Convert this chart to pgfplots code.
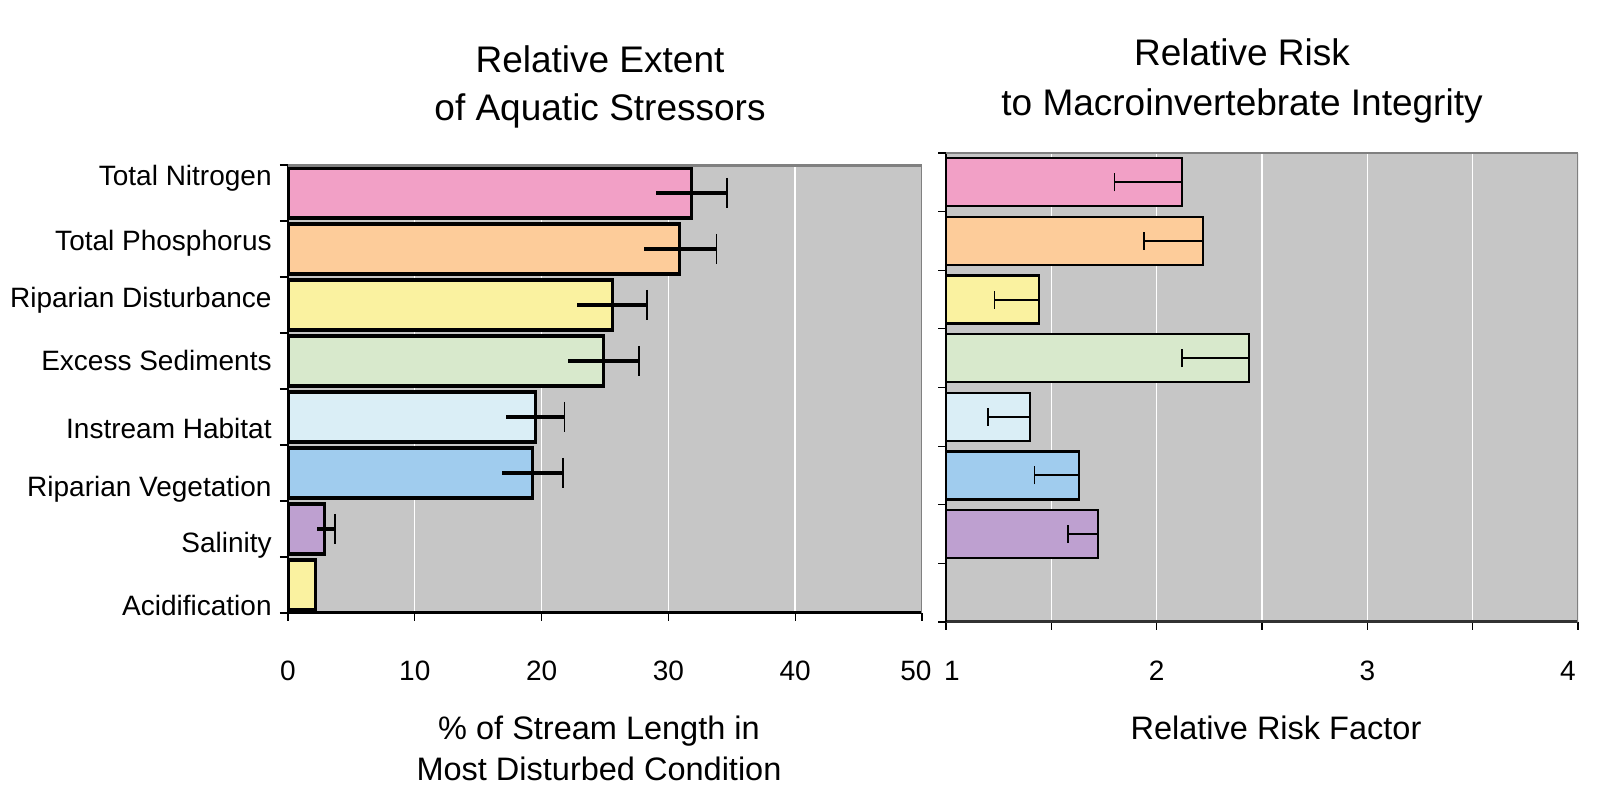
\documentclass[border=0pt]{standalone}
\usepackage{fontspec}
\setmainfont{Liberation Sans}
\usepackage{pgfplots}
\pgfplotsset{compat=1.18}

\definecolor{bg}{RGB}{198,198,198}
\definecolor{topgray}{RGB}{128,128,128}
\definecolor{cTN}{RGB}{242,160,198}
\definecolor{cTP}{RGB}{253,204,154}
\definecolor{cRD}{RGB}{250,242,160}
\definecolor{cES}{RGB}{216,233,204}
\definecolor{cIH}{RGB}{218,238,246}
\definecolor{cRV}{RGB}{160,204,238}
\definecolor{cSA}{RGB}{190,160,208}
\definecolor{cAC}{RGB}{250,242,160}

\pgfplotsset{
  common/.style={
    anchor=south west, scale only axis,
    ymin=-0.5, ymax=7.5,
    axis x line*=bottom, axis y line*=left,
    axis line style={-},
    axis background/.style={fill=bg},
    ytick={-0.5,0.5,...,7.5}, yticklabels={},
    tick align=outside, major tick length=4pt,
    tick style={black, line width=0.6pt},
    xmajorgrids, grid style={white, line width=0.7pt},
    ticklabel style={font=\fontsize{14pt}{16pt}\selectfont},
    xticklabel style={anchor=base, inner sep=0pt},
    /pgf/number format/assume math mode=true,
  },
}

\begin{document}
\begin{tikzpicture}
\path[use as bounding box] (0,0) rectangle (806pt,392.5pt);

% ---------------- Left panel ----------------
\begin{axis}[common,
  at={(144pt,86pt)}, width=317pt, height=224pt,
  xmin=0, xmax=50, xtick={0,10,...,50},
  xticklabels={0,10,20,30,40,{\kern-3pt 50\kern3pt}},
  xticklabel style={yshift=-30pt},
  x axis line style={line width=1.5pt},
  y axis line style={line width=0.8pt},
  extra y ticks={7.32,6.16,5.14,4.0,2.80,1.75,0.75,-0.375},
  extra y tick labels={Total Nitrogen,Total Phosphorus,Riparian Disturbance,Excess Sediments,Instream Habitat,Riparian Vegetation,Salinity,Acidification},
  extra y tick style={major tick length=0pt, yticklabel style={anchor=base east, inner sep=0pt, xshift=-8pt, yshift=-5pt}},
]
\addplot[xbar, bar width=25pt, bar shift=0pt, fill=cTN, draw=black, line width=1.6pt] coordinates {(31.8,7)};
\addplot[xbar, bar width=25pt, bar shift=0pt, fill=cTP, draw=black, line width=1.6pt] coordinates {(30.9,6)};
\addplot[xbar, bar width=25pt, bar shift=0pt, fill=cRD, draw=black, line width=1.6pt] coordinates {(25.6,5)};
\addplot[xbar, bar width=25pt, bar shift=0pt, fill=cES, draw=black, line width=1.6pt] coordinates {(24.9,4)};
\addplot[xbar, bar width=25pt, bar shift=0pt, fill=cIH, draw=black, line width=1.6pt] coordinates {(19.5,3)};
\addplot[xbar, bar width=25pt, bar shift=0pt, fill=cRV, draw=black, line width=1.6pt] coordinates {(19.3,2)};
\addplot[xbar, bar width=25pt, bar shift=0pt, fill=cSA, draw=black, line width=1.6pt] coordinates {(2.9,1)};
\addplot[xbar, bar width=25pt, bar shift=0pt, fill=cAC, draw=black, line width=1.6pt] coordinates {(2.2,0)};
% caps (plus side)
\addplot[draw=none, mark=none, error bars/.cd, x dir=plus, x explicit,
  error bar style={draw=black, line width=0.8pt},
  error mark=-, error mark options={rotate=90, draw=black, line width=0.8pt, mark size=7.5pt}]
  coordinates {
  (31.8,7) += (2.8,0) -= (2.75,0)
  (30.9,6) += (2.9,0) -= (2.8,0)
  (25.6,5) += (2.7,0) -= (2.8,0)
  (24.9,4) += (2.8,0) -= (2.8,0)
  (19.5,3) += (2.3,0) -= (2.3,0)
  (19.3,2) += (2.4,0) -= (2.4,0)
  (2.9,1)  += (0.8,0) -= (0.6,0)
  };
% thick error line
\addplot[draw=none, mark=none, error bars/.cd, x dir=both, x explicit,
  error bar style={draw=black, line width=2pt}, error mark=none]
  coordinates {
  (31.8,7) += (2.8,0) -= (2.75,0)
  (30.9,6) += (2.9,0) -= (2.8,0)
  (25.6,5) += (2.7,0) -= (2.8,0)
  (24.9,4) += (2.8,0) -= (2.8,0)
  (19.5,3) += (2.3,0) -= (2.3,0)
  (19.3,2) += (2.4,0) -= (2.4,0)
  (2.9,1)  += (0.8,0) -= (0.6,0)
  };
\draw[topgray, line width=2.5pt] (rel axis cs:0,1) -- (rel axis cs:1,1);
\draw[topgray, line width=0.5pt] (rel axis cs:1,0) -- (rel axis cs:1,1);
\end{axis}

% ---------------- Right panel ----------------
\begin{axis}[common,
  at={(473pt,81.5pt)}, width=316pt, height=234.5pt,
  xmin=1, xmax=4, xtick={1,1.5,...,4},
  xticklabels={{\kern3pt 1\kern-3pt},,2,,3,,{\kern-5pt 4\kern5pt}},
  xticklabel style={yshift=-25.5pt},
  x axis line style={line width=1.5pt, draw={rgb,255:red,50;green,50;blue,50}},
  y axis line style={line width=0.8pt},
]
\addplot[xbar, bar width=24pt, bar shift=0pt, fill=cTN, draw=black, line width=1.1pt] coordinates {(2.12,7)};
\addplot[xbar, bar width=24pt, bar shift=0pt, fill=cTP, draw=black, line width=1.1pt] coordinates {(2.22,6)};
\addplot[xbar, bar width=24pt, bar shift=0pt, fill=cRD, draw=black, line width=1.1pt] coordinates {(1.44,5)};
\addplot[xbar, bar width=24pt, bar shift=0pt, fill=cES, draw=black, line width=1.1pt] coordinates {(2.44,4)};
\addplot[xbar, bar width=24pt, bar shift=0pt, fill=cIH, draw=black, line width=1.1pt] coordinates {(1.40,3)};
\addplot[xbar, bar width=24pt, bar shift=0pt, fill=cRV, draw=black, line width=1.1pt] coordinates {(1.63,2)};
\addplot[xbar, bar width=24pt, bar shift=0pt, fill=cSA, draw=black, line width=1.1pt] coordinates {(1.72,1)};
\addplot[draw=none, mark=none, error bars/.cd, x dir=minus, x explicit,
  error bar style={draw=black, line width=1pt},
  error mark=-, error mark options={rotate=90, draw=black, line width=0.8pt, mark size=4.5pt}]
  coordinates {
  (2.12,7) -= (0.32,0)
  (2.22,6) -= (0.28,0)
  (1.44,5) -= (0.21,0)
  (2.44,4) -= (0.32,0)
  (1.40,3) -= (0.20,0)
  (1.63,2) -= (0.21,0)
  (1.72,1) -= (0.14,0)
  };
\draw[topgray, line width=1.2pt] (rel axis cs:0,1) -- (rel axis cs:1,1);
\draw[topgray, line width=0.6pt] (rel axis cs:1,0) -- (rel axis cs:1,1);
\end{axis}

% ---------------- Titles and axis labels ----------------
\node[anchor=base, font=\fontsize{18.5pt}{22pt}\selectfont] at (300pt,356pt) {Relative Extent};
\node[anchor=base, font=\fontsize{18.5pt}{22pt}\selectfont] at (300pt,332pt) {of Aquatic Stressors};
\node[anchor=base, font=\fontsize{18.5pt}{22pt}\selectfont] at (621pt,359.5pt) {Relative Risk};
\node[anchor=base, font=\fontsize{18.5pt}{22pt}\selectfont] at (621pt,334.5pt) {to Macroinvertebrate Integrity};
\node[anchor=base, font=\fontsize{16.25pt}{20pt}\selectfont] at (299.5pt,22.75pt) {\% of Stream Length in};
\node[anchor=base, font=\fontsize{16.25pt}{20pt}\selectfont] at (299.5pt,2.25pt) {Most Disturbed Condition};
\node[anchor=base, font=\fontsize{16.25pt}{20pt}\selectfont] at (638pt,22.75pt) {Relative Risk Factor};
\end{tikzpicture}
\end{document}
